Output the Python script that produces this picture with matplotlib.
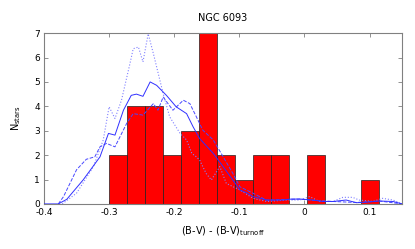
import numpy as np
import matplotlib.pyplot as plt

# histogram of colour offsets
bin_left = [-0.3, -0.2724, -0.2448, -0.2172, -0.1896, -0.162, -0.1344,
            -0.1068, -0.0792, -0.0516, -0.024, 0.0036, 0.0312, 0.0588, 0.0864]
counts = [2, 4, 4, 2, 3, 7, 2, 1, 2, 2, 0, 2, 0, 0, 1]
bin_width = 0.0276

# smoothed distributions
solid_x = [-0.4, -0.378, -0.365, -0.34, -0.314, -0.301, -0.291, -0.278, -0.266,
           -0.258, -0.248, -0.237, -0.227, -0.212, -0.197, -0.181, -0.171, -0.161,
           -0.14, -0.125, -0.11, -0.099, -0.089, -0.079, -0.058, -0.033, -0.02,
           -0.007, 0.013, 0.028, 0.044, 0.064, 0.08, 0.095, 0.115, 0.136, 0.15]
solid_y = [0, 0, 0.19, 0.98, 1.93, 2.89, 2.82, 3.84, 4.45, 4.5, 4.41, 5.0, 4.86,
           4.45, 3.98, 3.7, 3.16, 2.68, 2.07, 1.53, 0.98, 0.57, 0.46, 0.3, 0.16,
           0.16, 0.2, 0.2, 0.16, 0.1, 0.1, 0.16, 0.05, 0.07, 0.12, 0.1, 0.0]

dash_x = [-0.378, -0.37, -0.35, -0.335, -0.322, -0.314, -0.304, -0.291, -0.273,
          -0.263, -0.248, -0.232, -0.225, -0.217, -0.202, -0.186, -0.176, -0.166,
          -0.156, -0.14, -0.125, -0.11, -0.099, -0.079, -0.058, -0.033, -0.007,
          0.013, 0.044, 0.08, 0.115, 0.15]
dash_y = [0, 0.3, 1.4, 1.83, 1.93, 2.34, 2.48, 2.34, 3.3, 3.7, 3.64, 4.11, 3.84,
          4.38, 3.84, 4.25, 4.11, 3.57, 3.02, 2.62, 1.94, 1.25, 0.7, 0.44, 0.15,
          0.18, 0.2, 0.15, 0.1, 0.06, 0.12, 0.0]

dot_x = [-0.372, -0.35, -0.324, -0.309, -0.3, -0.291, -0.281, -0.268, -0.263,
         -0.255, -0.248, -0.24, -0.232, -0.217, -0.207, -0.191, -0.181, -0.173,
         -0.166, -0.161, -0.151, -0.143, -0.13, -0.12, -0.099, -0.079, -0.058,
         -0.028, -0.007, 0.008, 0.023, 0.044, 0.059, 0.074, 0.084, 0.105, 0.12,
         0.136, 0.15]
dot_y = [0, 0.44, 1.53, 2.62, 3.98, 3.5, 4.25, 5.75, 6.36, 6.43, 5.82, 6.97, 6.16,
         4.52, 3.57, 2.89, 2.62, 2.07, 1.93, 1.8, 1.25, 0.98, 1.53, 0.84, 0.57,
         0.23, 0.1, 0.16, 0.16, 0.3, 0.1, 0.1, 0.27, 0.27, 0.16, 0.1, 0.23, 0.16, 0.0]

fig = plt.figure(figsize=(4.15, 2.49), dpi=100)
ax = fig.add_axes([0.106, 0.181, 0.863, 0.686])

ax.bar(bin_left, counts, width=bin_width, align='edge', color='#ff0000',
       edgecolor='#202020', linewidth=0.5, zorder=2)
ax.plot(dot_x, dot_y, color='#8080ff', linestyle=':', linewidth=0.8, zorder=3)
ax.plot(dash_x, dash_y, color='#4848ff', linestyle='--', linewidth=0.7, zorder=3)
ax.plot(solid_x, solid_y, color='#3030ff', linestyle='-', linewidth=0.7, zorder=3)

ax.set_xlim(-0.4, 0.15)
ax.set_ylim(0, 7)
ax.set_xticks([-0.4, -0.3, -0.2, -0.1, 0, 0.1])
ax.set_xticklabels(['-0.4', '-0.3', '-0.2', '-0.1', '0', '0.1'])
ax.set_yticks(range(8))
ax.tick_params(direction='in', top=True, right=True, labelsize=6.5,
               length=3, width=0.6, color='#808080', pad=3)
for s in ax.spines.values():
    s.set_color('#808080')
    s.set_linewidth(0.8)

ax.set_title('NGC 6093', fontsize=7, pad=9)
ax.set_xlabel(r'(B-V) - (B-V)$_{\rm turnoff}$', fontsize=7, labelpad=5)
ax.set_ylabel(r'N$_{\rm stars}$', fontsize=7, labelpad=8)

plt.savefig('out.png', dpi=100)
